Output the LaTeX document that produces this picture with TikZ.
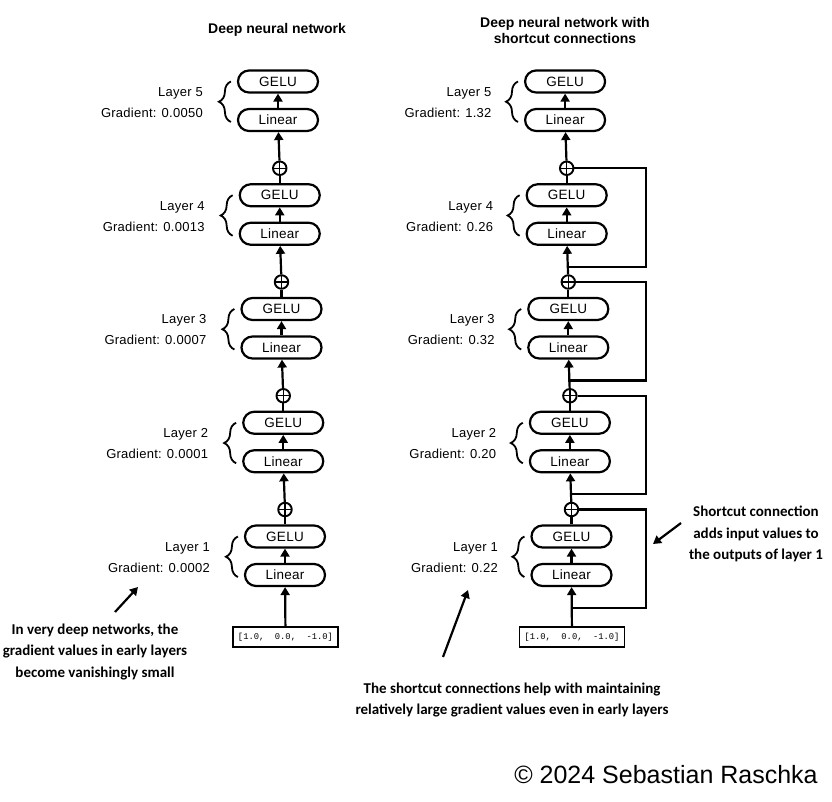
\documentclass[tikz,border=0pt]{standalone}
\usepackage{fontspec}
\setmainfont{Liberation Sans}
\setmonofont{Liberation Mono}
\newfontfamily\labelfont[LetterSpace=2]{Liberation Sans}
\newfontfamily\notefont{Carlito}
\usepackage{tikz}
\tikzstyle{box} = [draw, line width=2.2pt, rounded corners=11pt, minimum width=80pt, minimum height=22pt, inner sep=0pt, font=\labelfont\fontsize{13.5}{15}\selectfont]
\tikzstyle{add} = [draw, circle, line width=1.9pt, minimum size=13.5pt, inner sep=0pt,
  path picture={\draw[line width=1.4pt] (path picture bounding box.north) -- (path picture bounding box.south)
    (path picture bounding box.west) -- (path picture bounding box.east);}]
\tikzstyle{wire} = [line width=2.2pt]
\tikzstyle{arr} = [wire, -{Triangle[width=9pt,length=8pt]}]
\tikzstyle{lab} = [anchor=east, align=right, inner sep=0pt, font=\labelfont\fontsize{13}{21}\selectfont]
\tikzstyle{title} = [align=center, inner sep=0pt, font=\bfseries\fontsize{14}{16}\selectfont]
\tikzstyle{note} = [align=center, inner sep=0pt, font=\notefont\bfseries\fontsize{15}{21.5}\selectfont]
\tikzstyle{inp} = [draw, line width=1.3pt, minimum width=105pt, minimum height=20pt, inner sep=0pt, font=\ttfamily\fontsize{8.8}{10}\selectfont]
\tikzstyle{brc} = [decorate, decoration={brace, amplitude=12pt}, line width=1.8pt]
\usetikzlibrary{arrows.meta,calc,decorations.pathreplacing,positioning}

\begin{document}
\begin{tikzpicture}[x=1pt, y=-1pt]
  \useasboundingbox (0,0) rectangle (832,802);
  \node[title] (T1) at (277,30) {Deep neural network};
  \node[title] (T2) at (565,30) {Deep neural network with\\shortcut connections};

  % plain network
  \foreach \k/\g in {1/0.0002, 2/0.0001, 3/0.0007, 4/0.0013, 5/0.0050} {
    \pgfmathsetmacro{\x}{285-(\k-1)*1.75}
    \pgfmathsetmacro{\y}{536.5-(\k-1)*113.75}
    \node[box] (G\k) at (\x,\y) {GELU};
    \node[box] (L\k) at (\x,\y+38.5) {Linear};
    \node[lab] (N\k) at (\x-75,\y+21) {Layer \k\\Gradient: \g};
    \ifnum\k<5 \node[add] (P\k) at (\x,\y-27) {}; \fi
    \draw[brc] ($(L\k.west)+(-6,2)$) -- ($(G\k.west)+(-6,0)$);
    \draw[arr] (L\k) -- (G\k);
  }
  \foreach \k/\n in {1/2, 2/3, 3/4, 4/5} {
    \draw[wire] (G\k) -- (P\k);
    \draw[arr] (P\k) -- (L\n);
  }
  \node[inp] (X) at (285.5,637) {[1.0,~~0.0,~~-1.0]};
  \draw[arr] (X) -- (L1);

  % network with shortcuts
  \foreach \k/\g in {1/0.22, 2/0.20, 3/0.32, 4/0.26, 5/1.32} {
    \pgfmathsetmacro{\x}{571.5-(\k-1)*1.6}
    \pgfmathsetmacro{\y}{536.5-(\k-1)*113.75}
    \node[box] (GS\k) at (\x,\y) {GELU};
    \node[box] (LS\k) at (\x,\y+38.5) {Linear};
    \node[lab] (NS\k) at (\x-73.5,\y+21) {Layer \k\\Gradient: \g};
    \ifnum\k<5 \node[add] (PS\k) at (\x,\y-27) {}; \fi
    \draw[brc] ($(LS\k.west)+(-6,2)$) -- ($(GS\k.west)+(-6,0)$);
    \draw[arr] (LS\k) -- (GS\k);
  }
  \node[inp] (XS) at (572,637) {[1.0,~~0.0,~~-1.0]};
  \draw[arr] (XS) -- (LS1);
  \coordinate (E) at (646,0);
  \foreach \k/\n in {1/2, 2/3, 3/4, 4/5} {
    \draw[wire] (GS\k) -- (PS\k);
    \draw[arr] (PS\k) -- (LS\n);
    \coordinate (C\k) at ($(LS\k)+(0,33)$);
    \draw[wire] (C\k) -- (C\k -| E) |- (PS\k.east);
  }

  % notes
  \node[note] (NL) at (95,652) {In very deep networks, the\\gradient values in early layers\\become vanishingly small};
  \node[note] (NM) at (512,700) {The shortcut connections help with maintaining\\relatively large gradient values even in early layers};
  \node[note] (NR) at (756,534) {Shortcut connection\\adds input values to\\the outputs of layer 1};
  \coordinate (aL) at (115,612);
  \coordinate (bL) at (138,587);
  \coordinate (aM) at (443,657);
  \coordinate (bM) at (468,590);
  \coordinate (aR) at (681,523);
  \coordinate (bR) at (653,544);
  \draw[arr] (aL) -- (bL);
  \draw[arr] (aM) -- (bM);
  \draw[arr] (aR) -- (bR);

  \node[font=\fontsize{25}{30}\selectfont, inner sep=0pt] (copy) at (666,775) {© 2024 Sebastian Raschka};
\end{tikzpicture}
\end{document}
